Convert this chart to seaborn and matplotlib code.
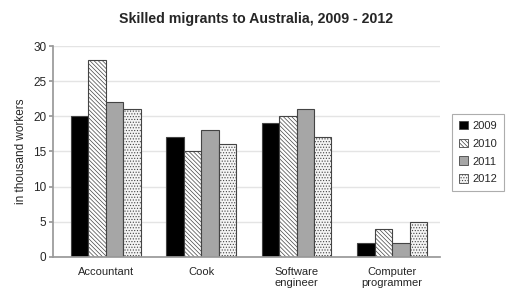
import matplotlib
matplotlib.use("Agg")
import matplotlib.pyplot as plt
import seaborn as sns
import pandas as pd

categories = ["Accountant", "Cook", "Software\nengineer", "Computer\nprogrammer"]
years = ["2009", "2010", "2011", "2012"]
v2009 = [20, 17, 19, 2]
v2010 = [28, 15, 20, 4]
v2011 = [22, 18, 21, 2]
v2012 = [21, 16, 17, 5]

rows = []
for y, vals in zip(years, [v2009, v2010, v2011, v2012]):
    for c, v in zip(categories, vals):
        rows.append({"cat": c, "year": y, "val": v})
df = pd.DataFrame(rows)

sns.set_theme(style="white")
plt.rcParams["font.family"] = ["Liberation Sans", "DejaVu Sans"]
plt.rcParams["hatch.linewidth"] = 0.5

fig = plt.figure(figsize=(5.12, 2.97), dpi=100)
fig.patch.set_facecolor("white")
ax = fig.add_axes([0.104, 0.135, 0.755, 0.71])

colors = ["#000000", "#ffffff", "#a6a6a6", "#f4f4f4"]
hatches = [None, "\\" * 8, None, "." * 6]
sns.barplot(data=df, x="cat", y="val", hue="year", palette=colors,
            width=0.73, ax=ax, edgecolor="#444444", linewidth=0.8, legend=False)

for cont, h in zip(ax.containers, hatches):
    for p in cont.patches:
        if h:
            p.set_hatch(h)

ax.set_ylim(0, 30)
ax.set_yticks([0, 5, 10, 15, 20, 25, 30])
ax.yaxis.grid(True, color="#e4e4e4", linewidth=1)
ax.set_axisbelow(True)
for s in ["top", "right"]:
    ax.spines[s].set_visible(False)
ax.spines["left"].set_color("#999999")
ax.spines["bottom"].set_color("#999999")
ax.tick_params(axis="y", left=True, length=3, color="#999999", labelsize=8.5, pad=2)
ax.tick_params(axis="x", bottom=False, labelsize=8, pad=1)
ax.set_xlabel("")
ax.set_ylabel("in thousand workers", fontsize=8.5, labelpad=4)
ax.set_xlim(-0.55, 3.5)

fig.suptitle("Skilled migrants to Australia, 2009 - 2012", fontsize=10.2,
             fontweight="bold", x=0.5, y=0.96)

from matplotlib.patches import Patch
handles = [Patch(facecolor=c, edgecolor="#444444", hatch=h, linewidth=0.6)
           for c, h in zip(colors, hatches)]
leg = fig.legend(handles, years, loc="upper left", bbox_to_anchor=(0.872, 0.635),
                 fontsize=8, frameon=True, fancybox=False, edgecolor="#999999",
                 handlelength=0.8, handleheight=0.8, labelspacing=0.7,
                 handletextpad=0.4, borderpad=0.6)
leg.get_frame().set_linewidth(0.8)

fig.savefig("out.png", dpi=100, facecolor="white")
